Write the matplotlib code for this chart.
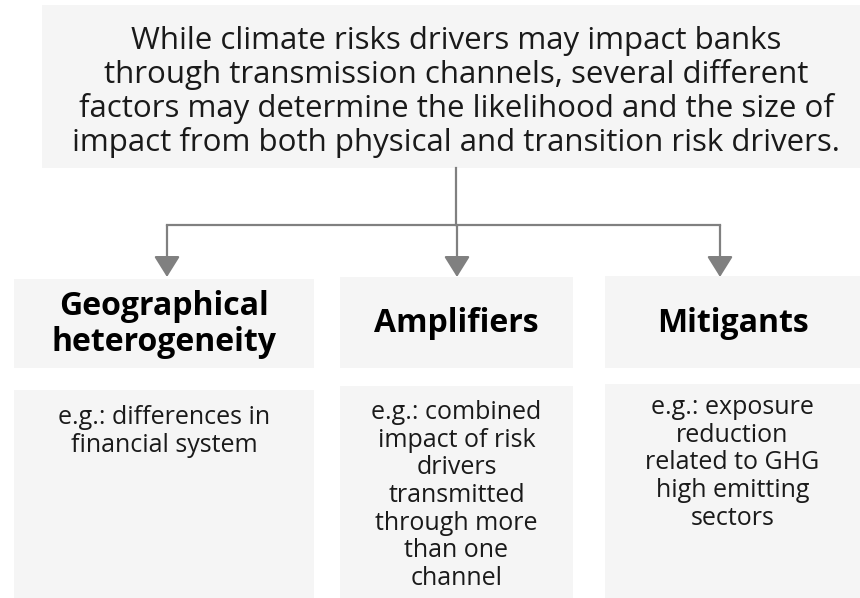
import matplotlib
matplotlib.use("Agg")
import matplotlib.pyplot as plt
from matplotlib.patches import Rectangle, FancyArrowPatch

intro_text = ("While climate risks drivers may impact banks\n"
              "through transmission channels, several different\n"
              "factors may determine the likelihood and the size of\n"
              "impact from both physical and transition risk drivers.")
headers = ["Geographical\nheterogeneity", "Amplifiers", "Mitigants"]
examples = ["e.g.: differences in\nfinancial system",
            "e.g.: combined\nimpact of risk\ndrivers\ntransmitted\nthrough more\nthan one\nchannel",
            "e.g.: exposure\nreduction\nrelated to GHG\nhigh emitting\nsectors"]

BOX = "#f5f5f5"
LINE = "#808080"
TXT = "#1a1a1a"
FONT = "Open Sans"

fig = plt.figure(figsize=(8.6, 5.98), dpi=100)
ax = fig.add_axes([0, 0, 1, 1])
ax.set_xlim(0, 860)
ax.set_ylim(598, 0)
ax.axis("off")

# top box
ax.add_patch(Rectangle((42, 5), 818, 163, facecolor=BOX, edgecolor="none"))
ax.text(456, 92, intro_text, ha="center", va="center", fontsize=22.5,
        family=FONT, color=TXT, linespacing=1.12)

# connectors
ax.plot([456, 456], [168, 225], color=LINE, lw=1.6)
ax.plot([167, 720], [225, 225], color=LINE, lw=1.6)

col_x = [167, 457, 720]
hdr_boxes = [(14, 279, 300, 89), (340, 277, 233, 91), (605, 276, 255, 92)]
ex_boxes = [(14, 390, 300, 208), (340, 386, 233, 212), (605, 384, 255, 214)]
ex_text_y = [405, 400, 395]

for i, cx in enumerate(col_x):
    ax.add_patch(FancyArrowPatch((cx, 225), (cx, 277), arrowstyle="-|>,head_length=8,head_width=5",
                                 color=LINE, lw=1.6, mutation_scale=1.6, shrinkA=0, shrinkB=0))
    x, y, w, h = hdr_boxes[i]
    ax.add_patch(Rectangle((x, y), w, h, facecolor=BOX, edgecolor="none"))
    ax.text(x + w / 2, y + h / 2 + 1, headers[i], ha="center", va="center",
            fontsize=23, fontweight="bold", family=FONT, color="black", linespacing=1.14)
    x, y, w, h = ex_boxes[i]
    ax.add_patch(Rectangle((x, y), w, h, facecolor=BOX, edgecolor="none"))
    ax.text(x + w / 2, ex_text_y[i], examples[i], ha="center", va="top",
            fontsize=18, family=FONT, color=TXT, linespacing=1.14)

fig.savefig("out.png", dpi=100)
